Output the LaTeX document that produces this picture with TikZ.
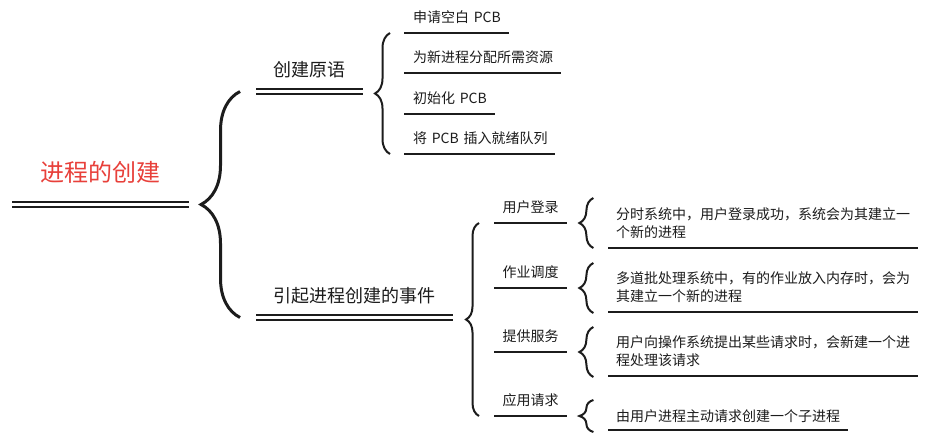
\documentclass[tikz,border=0pt]{standalone}
\usepackage{fontspec}
\setmainfont{Noto Sans CJK SC}
\usetikzlibrary{decorations.pathreplacing,calc}
\definecolor{rootred}{RGB}{232,64,58}
\definecolor{ink}{RGB}{28,28,28}
\begin{document}
\begin{tikzpicture}[
x=1pt,
y=-1pt,
every node/.style={inner sep=0pt, text=ink},
root/.style={
font=\fontsize{24}{28}\selectfont,
text=rootred,
minimum width=177pt,
minimum height=63pt,
anchor=south west
},
topic/.style={
font=\fontsize{18}{22}\selectfont,
minimum height=43pt,
anchor=south west
},
event/.style={
font=\fontsize{14}{18}\selectfont,
minimum width=73pt,
minimum height=31pt,
anchor=south west
},
leaf/.style={
font=\fontsize{14}{18}\selectfont,
text width=#1,
align=left,
inner xsep=9pt,
minimum height=31pt,
anchor=south west
},
note/.style={
font=\fontsize{14}{18}\selectfont,
text width=#1,
align=left,
inner xsep=8pt,
minimum height=50pt,
anchor=south west
},
dline/.style={draw=ink, double, line width=2pt, double distance=3pt},
uline/.style={draw=ink, line width=2pt},
curly/.style={draw=ink, decorate, decoration={brace, amplitude=#1}, line width=2pt}
]
\fill[white] (0,0) rectangle (931,445);
\useasboundingbox (0,0) rectangle (931,445);
\node[root] (creation) at (12,204.5) {进程的创建};
\node[topic, minimum width=107pt] (primitive) at (256,91.5) {创建原语};
\node[topic, minimum width=197pt] (events) at (256,317.5) {引起进程创建的事件};
\node[leaf=87pt] (apply) at (404,33) {申请空白~PCB};
\node[leaf=139pt] (alloc) at (404,73) {为新进程分配所需资源};
\node[leaf=73pt] (init) at (404,114) {初始化~PCB};
\node[leaf=133pt] (insert) at (404,154) {将~PCB~插入就绪队列};
\node[event] (login) at (494,223) {用户登录};
\node[event] (sched) at (494,288) {作业调度};
\node[event] (service) at (494,352) {提供服务};
\node[event] (request) at (494,416) {应用请求};
\node[note=294pt] (loginnote) at (608,248)
{分时系统中，用户登录成功，系统会为其建立一\\个新的进程};
\node[note=294pt] (schednote) at (608,312)
{多道批处理系统中，有的作业放入内存时，会为\\其建立一个新的进程};
\node[note=294pt] (servicenote) at (608,376)
{用户向操作系统提出某些请求时，会新建一个进\\程处理该请求};
\node[note=224pt, minimum height=28pt] (requestnote) at (608,430)
{由用户进程主动请求创建一个子进程};
\draw[dline] (creation.south west) -- (creation.south east);
\draw[dline] (primitive.south west) -- (primitive.south east);
\draw[dline] (events.south west) -- (events.south east);
\foreach \n in {apply,alloc,init,insert,login,sched,service,request,loginnote,schednote,servicenote,requestnote}
\draw[uline] (\n.south west) -- (\n.south east);
\draw[curly=39pt, line width=3pt] ($(events.south west)+(-16,0)$) -- ($(primitive.south west)+(-16,0)$);
\draw[curly=15pt] ($(insert.south west)+(-14,0)$) -- ($(apply.south west)+(-14,0)$);
\draw[curly=13pt] ($(request.south west)+(-15,0)$) -- ($(login.south west)+(-15,0)$);
\foreach \n in {login,sched,service}
\draw[curly=14pt] ($(\n.south east)+(26,25)$) -- ($(\n.south east)+(26,-25)$);
\draw[curly=14pt] ($(request.south east)+(26,16)$) -- ($(request.south east)+(26,-16)$);
\end{tikzpicture}
\end{document}
